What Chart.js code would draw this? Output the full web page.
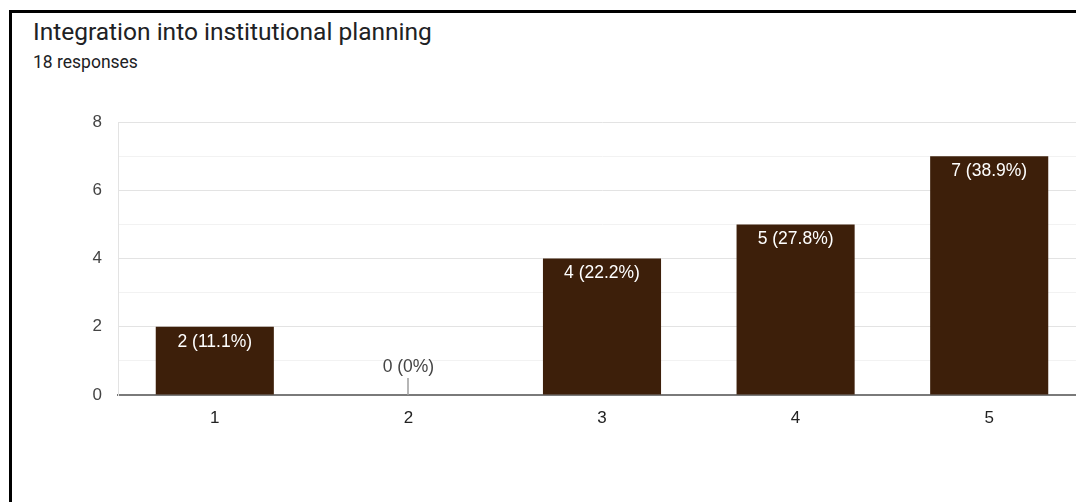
<!DOCTYPE html>
<html lang="en">
<head>
    <meta charset="UTF-8">
    <script src="https://cdn.jsdelivr.net/npm/chart.js"></script>
    <title>Integration into institutional planning</title>
    <style>
        html, body {
            margin: 0;
            padding: 0;
            width: 1076px;
            height: 502px;
            overflow: hidden;
            background: #fff;
        }
        #frame {
            position: absolute;
            left: 9px;
            top: 10px;
            width: 1200px;
            height: 600px;
            border-left: 3px solid #000;
            border-top: 3px solid #000;
        }
        #title {
            position: absolute;
            left: 33px;
            top: 17px;
            font: 24.5px Roboto, Arial, sans-serif;
            color: #202124;
        }
        #subtitle {
            position: absolute;
            left: 33px;
            top: 52px;
            font: 17.5px Roboto, Arial, sans-serif;
            color: #202124;
        }
        #wrap {
            position: absolute;
            left: 0;
            top: 0;
            width: 1100px;
            height: 502px;
        }
    </style>
</head>
<body>
    <div id="frame"></div>
    <div id="title">Integration into institutional planning</div>
    <div id="subtitle">18 responses</div>
    <div id="wrap"><canvas id="chart"></canvas></div>

    <script>
        const categories = ['1', '2', '3', '4', '5'];
        const counts = [2, 0, 4, 5, 7];
        const yTicks = [0, 2, 4, 6, 8];

        const total = counts.reduce((a, b) => a + b, 0);

        // подписи на столбцах: белые внутри, для нуля - над маленькой чёрточкой
        const barLabels = {
            id: 'barLabels',
            afterDatasetsDraw(chart) {
                const ctx = chart.ctx;
                const meta = chart.getDatasetMeta(0);
                ctx.save();
                ctx.font = '17.5px Arial, "Liberation Sans", sans-serif';
                ctx.textAlign = 'center';
                ctx.textBaseline = 'middle';
                meta.data.forEach((bar, i) => {
                    const v = counts[i];
                    const pct = Math.round(v / total * 1000) / 10;
                    const text = v + ' (' + pct + '%)';
                    if (v > 0) {
                        ctx.fillStyle = '#ffffff';
                        ctx.fillText(text, bar.x, bar.y + 15);
                    } else {
                        ctx.strokeStyle = '#9e9e9e';
                        ctx.lineWidth = 1.5;
                        ctx.beginPath();
                        ctx.moveTo(Math.round(bar.x), bar.y);
                        ctx.lineTo(Math.round(bar.x), bar.y - 17);
                        ctx.stroke();
                        ctx.fillStyle = '#444444';
                        ctx.fillText(text, bar.x, bar.y - 28);
                    }
                });
                ctx.restore();
            }
        };

        new Chart(document.getElementById('chart'), {
            type: 'bar',
            data: {
                labels: categories,
                datasets: [{
                    data: counts,
                    backgroundColor: '#3d1f0a',
                    borderWidth: 0,
                    barPercentage: 0.61,
                    categoryPercentage: 1
                }]
            },
            options: {
                responsive: true,
                maintainAspectRatio: false,
                animation: false,
                events: [],
                layout: {
                    padding: { top: 122, right: 14, bottom: 67, left: 0 }
                },
                plugins: {
                    legend: { display: false },
                    tooltip: { enabled: false }
                },
                scales: {
                    x: {
                        grid: { display: false, drawTicks: false },
                        border: { color: '#7a7a7a', width: 2 },
                        ticks: {
                            padding: 13,
                            color: '#222',
                            font: { family: 'Arial, "Liberation Sans"', size: 17 }
                        },
                        afterFit(axis) { axis.height = 40; }
                    },
                    y: {
                        min: 0,
                        max: 8,
                        ticks: {
                            stepSize: 1,
                            padding: 16,
                            color: '#444',
                            font: { family: 'Arial, "Liberation Sans"', size: 17 },
                            callback: (v) => yTicks.includes(v) ? v : ''
                        },
                        grid: {
                            drawTicks: false,
                            color: (c) => yTicks.includes(c.tick.value) ? '#e3e3e3' : '#f2f2f2'
                        },
                        border: { color: '#e3e3e3', width: 1 },
                        afterFit(axis) { axis.width = 118; }
                    }
                }
            },
            plugins: [barLabels]
        });
    </script>
</body>
</html>
